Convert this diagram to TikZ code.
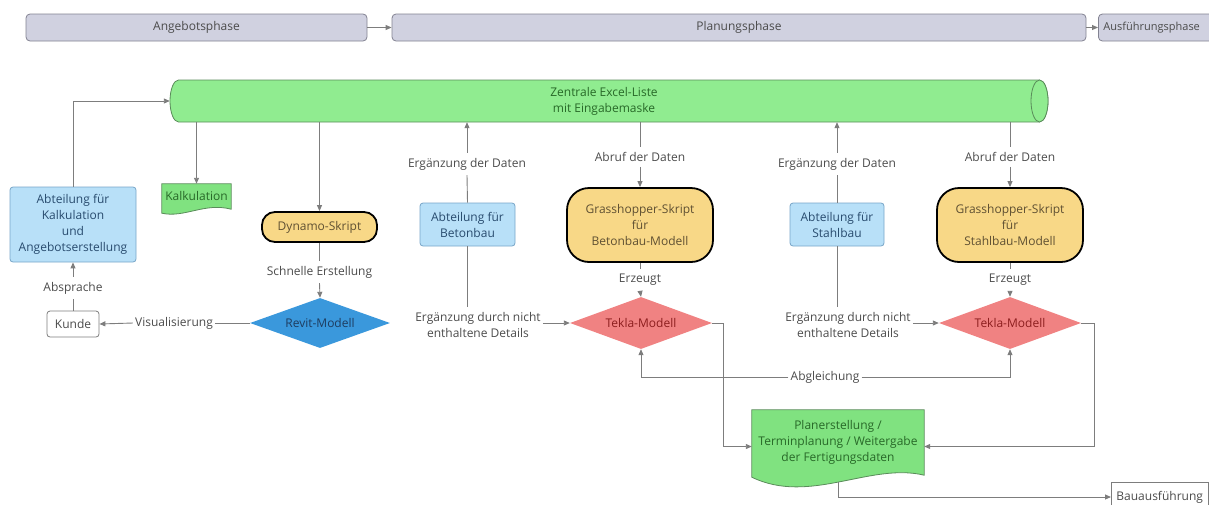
\documentclass[tikz,border=0pt]{standalone}
\usepackage{fontspec}
\setmainfont{Open Sans}
\definecolor{phasefill}{RGB}{208, 209, 224}
\definecolor{phaseline}{RGB}{130, 130, 145}
\definecolor{excelgreen}{RGB}{144, 236, 144}
\definecolor{excelline}{RGB}{90, 140, 90}
\definecolor{greenink}{RGB}{40, 105, 40}
\definecolor{docgreen}{RGB}{128, 226, 128}
\definecolor{deptblue}{RGB}{184, 224, 248}
\definecolor{deptline}{RGB}{120, 165, 200}
\definecolor{deptink}{RGB}{40, 75, 110}
\definecolor{scriptyellow}{RGB}{248, 216, 135}
\definecolor{scriptink}{RGB}{95, 80, 50}
\definecolor{revitblue}{RGB}{58, 152, 220}
\definecolor{revitink}{RGB}{30, 60, 95}
\definecolor{teklared}{RGB}{240, 130, 130}
\definecolor{teklaink}{RGB}{140, 30, 30}
\definecolor{flowgray}{RGB}{125, 125, 125}
\definecolor{labelink}{RGB}{75, 75, 75}
\usetikzlibrary{arrows.meta, shapes.geometric, calc, backgrounds}

\begin{document}
\begin{tikzpicture}[
    x=1pt, y=-1pt,
    every node/.append style={font=\fontsize{12}{16}\selectfont, text=labelink},
  ]

  \tikzset{
    phase-bar/.style={
      fill=phasefill, draw=phaseline, line width=0.8pt,
      rounded corners=4pt, minimum height=27, inner sep=0pt,
    },
    excel-tube/.style={fill=excelgreen, draw=excelline, line width=0.8pt},
    doc-box/.style={text=greenink, align=center, inner sep=0pt},
    doc-shape/.style={fill=docgreen, draw=excelline, line width=0.8pt},
    dept-box/.style={
      fill=deptblue, draw=deptline, line width=0.8pt,
      rounded corners=3pt, align=center, text=deptink,
    },
    script-pill/.style={
      fill=scriptyellow, draw=black, line width=1.8pt,
      align=center, text=scriptink,
    },
    model-diamond/.style={diamond, aspect=2.8, inner sep=0pt},
    revit/.style={model-diamond, fill=revitblue, text=revitink},
    tekla/.style={
      model-diamond, fill=teklared, text=teklaink,
      minimum width=142, minimum height=52,
    },
    plain-box/.style={fill=white, draw=flowgray, line width=0.8pt},
    edge-label/.style={align=center, inner xsep=2pt, inner ysep=5pt},
    flow/.style={draw=flowgray, line width=0.9pt},
    flow-arrow/.style={flow, -{Triangle[length=6pt, width=5pt]}},
  }

  \useasboundingbox (0, 0) rectangle (1209, 504);
  \clip (0, 0) rectangle (1209, 504);

  %% ---------------- PHASES ----------------
  \node[phase-bar, minimum width=341] (angebot) at (196.5, 27.5) {Angebotsphase};
  \node[phase-bar, minimum width=694] (planung) at (739, 27.5) {Planungsphase};
  \node[phase-bar, anchor=west, inner xsep=5pt, text width=125, align=left,
    font=\fontsize{11}{15}\selectfont] (ausfuehrung) at (1098, 27.5) {Ausführungsphase};
  \draw[flow-arrow] (angebot.east) -- (planung.west);
  \draw[flow-arrow] (planung.east) -- (ausfuehrung.west);

  %% ---------------- EXCEL LIST ----------------
  % tube body and visible end
  \filldraw[excel-tube] (178.5, 80) -- (1039.5, 80)
    arc[start angle=-90, end angle=90, x radius=8.5, y radius=21]
    -- (178.5, 122)
    arc[start angle=90, end angle=270, x radius=8.5, y radius=21] -- cycle;
  \draw[excel-tube] (1039.5, 101) ellipse[x radius=8.5, y radius=21];
  \node[text=greenink, align=center, minimum width=868, minimum height=42] (excel)
    at (604, 101) {Zentrale Excel-Liste\\mit Eingabemaske};

  %% ---------------- OFFER / REVIT ----------------
  \node[dept-box, minimum width=126, minimum height=75] (kalk-dept) at (73, 224.5)
    {Abteilung für\\Kalkulation\\und\\Angebotserstellung};
  \node[doc-box, minimum width=69, minimum height=24] (kalk-doc) at (196.5, 196) {Kalkulation};
  \node[script-pill, rounded corners=13pt, minimum width=115, minimum height=30] (dynamo)
    at (319.5, 227) {Dynamo-Skript};
  \node[edge-label] (schnell) at (319.5, 272) {Schnelle Erstellung};
  \node[revit, minimum width=140, minimum height=50] (revit-model) at (320, 323) {Revit-Modell};
  \node[plain-box, rounded corners=3pt, minimum width=52, minimum height=26] (kunde)
    at (73, 324) {Kunde};
  \node[edge-label] (visual) at (174, 323) {Visualisierung};
  \node[edge-label] (absprache) at (73, 288) {Absprache};

  \draw[flow-arrow] (kalk-dept.north) |- (excel.west);
  \draw[flow-arrow] (kalk-doc.north |- excel.south) -- (kalk-doc.north);
  \draw[flow-arrow] (dynamo.north |- excel.south) -- (dynamo.north);
  \draw[flow] (dynamo.south) -- (schnell.north);
  \draw[flow-arrow] (schnell.south) -- (revit-model.north);
  \draw[flow] (revit-model.west) -- (visual.east);
  \draw[flow-arrow] (visual.west) -- (kunde.east);
  \draw[flow] (kunde.north) -- (absprache.south);
  \draw[flow-arrow] (absprache.north) -- (kalk-dept.south);

  %% ---------------- BETONBAU ----------------
  \node[edge-label] (ergb-daten) at (467, 164) {Ergänzung der Daten};
  \node[dept-box, minimum width=95, minimum height=43] (beton-dept) at (467.5, 224.5)
    {Abteilung für\\Betonbau};
  \node[edge-label] (ergb-details) at (478, 325) {Ergänzung durch nicht\\enthaltene Details};
  \node[edge-label] (abrufb) at (640, 157) {Abruf der Daten};
  \node[script-pill, rounded corners=22pt, minimum width=146, minimum height=74] (gh-beton)
    at (640, 225) {Grasshopper-Skript\\für\\Betonbau-Modell};
  \node[edge-label] (erzeugtb) at (640, 280) {Erzeugt};
  \node[tekla] (tekla-beton) at (641, 323) {Tekla-Modell};

  \draw[flow] (beton-dept.north) -- (ergb-daten.south);
  \draw[flow-arrow] (ergb-daten.north) -- (ergb-daten.north |- excel.south);
  \draw[flow] (beton-dept.south) -- (beton-dept.south |- ergb-details.north);
  \draw[flow-arrow] (ergb-details.east |- tekla-beton.west) -- (tekla-beton.west);
  \draw[flow] (abrufb.north |- excel.south) -- (abrufb.north);
  \draw[flow-arrow] (abrufb.south) -- (gh-beton.north);
  \draw[flow] (gh-beton.south) -- (erzeugtb.north);
  \draw[flow-arrow] (erzeugtb.south) -- (tekla-beton.north);

  %% ---------------- STAHLBAU ----------------
  \node[edge-label] (ergs-daten) at (837, 164) {Ergänzung der Daten};
  \node[dept-box, minimum width=94, minimum height=43] (stahl-dept) at (837, 224.5)
    {Abteilung für\\Stahlbau};
  \node[edge-label] (ergs-details) at (848, 325) {Ergänzung durch nicht\\enthaltene Details};
  \node[edge-label] (abrufs) at (1010, 157) {Abruf der Daten};
  \node[script-pill, rounded corners=22pt, minimum width=146, minimum height=74] (gh-stahl)
    at (1010, 225) {Grasshopper-Skript\\für\\Stahlbau-Modell};
  \node[edge-label] (erzeugts) at (1010, 280) {Erzeugt};
  \node[tekla] (tekla-stahl) at (1010, 323) {Tekla-Modell};

  \draw[flow] (stahl-dept.north) -- (ergs-daten.south);
  \draw[flow-arrow] (ergs-daten.north) -- (ergs-daten.north |- excel.south);
  \draw[flow] (stahl-dept.south) -- (stahl-dept.south |- ergs-details.north);
  \draw[flow-arrow] (ergs-details.east |- tekla-stahl.west) -- (tekla-stahl.west);
  \draw[flow] (abrufs.north |- excel.south) -- (abrufs.north);
  \draw[flow-arrow] (abrufs.south) -- (gh-stahl.north);
  \draw[flow] (gh-stahl.south) -- (erzeugts.north);
  \draw[flow-arrow] (erzeugts.south) -- (tekla-stahl.north);

  %% ---------------- OUTPUT ----------------
  \node[edge-label] (abgleich) at (825, 377) {Abgleichung};
  \node[doc-box, minimum width=172, minimum height=65] (plan) at (838, 442.5)
    {Planerstellung /\\Terminplanung / Weitergabe\\der Fertigungsdaten};
  \node[plain-box, anchor=west, inner xsep=5pt, minimum height=30] (bau)
    at (1111, 497) {Bauausführung};
  \coordinate (plan-foot) at ($(plan.south)+(0, 7)$);

  % wavy document outlines
  \begin{scope}[on background layer]
    \filldraw[doc-shape] (kalk-doc.north west) -- (kalk-doc.north east)
      -- ($(kalk-doc.south east)+(0, 1)$)
      .. controls ($(kalk-doc.south)+(8, -6)$) and ($(kalk-doc.south)+(-12, 10)$)
      .. ($(kalk-doc.south west)+(0, 5)$) -- cycle;
    \filldraw[doc-shape] (plan.north west) -- (plan.north east) -- (plan.south east)
      .. controls ($(plan.south east)+(-54, -13)$) and ($(plan.south west)+(58, 30)$)
      .. ($(plan.south west)+(0, 2)$) -- cycle;
  \end{scope}

  \draw[flow-arrow] (abgleich.east) -| (tekla-stahl.south);
  \draw[flow-arrow] (abgleich.west) -| (tekla-beton.south);
  \draw[flow-arrow] (tekla-beton.east) -- ++(11, 0) |- ([yshift=-4pt]plan.west);
  \draw[flow-arrow] (tekla-stahl.east) -- ++(13, 0) |- ([yshift=-4pt]plan.east);
  \draw[flow-arrow] (plan-foot) |- (bau.west);

\end{tikzpicture}
\end{document}
